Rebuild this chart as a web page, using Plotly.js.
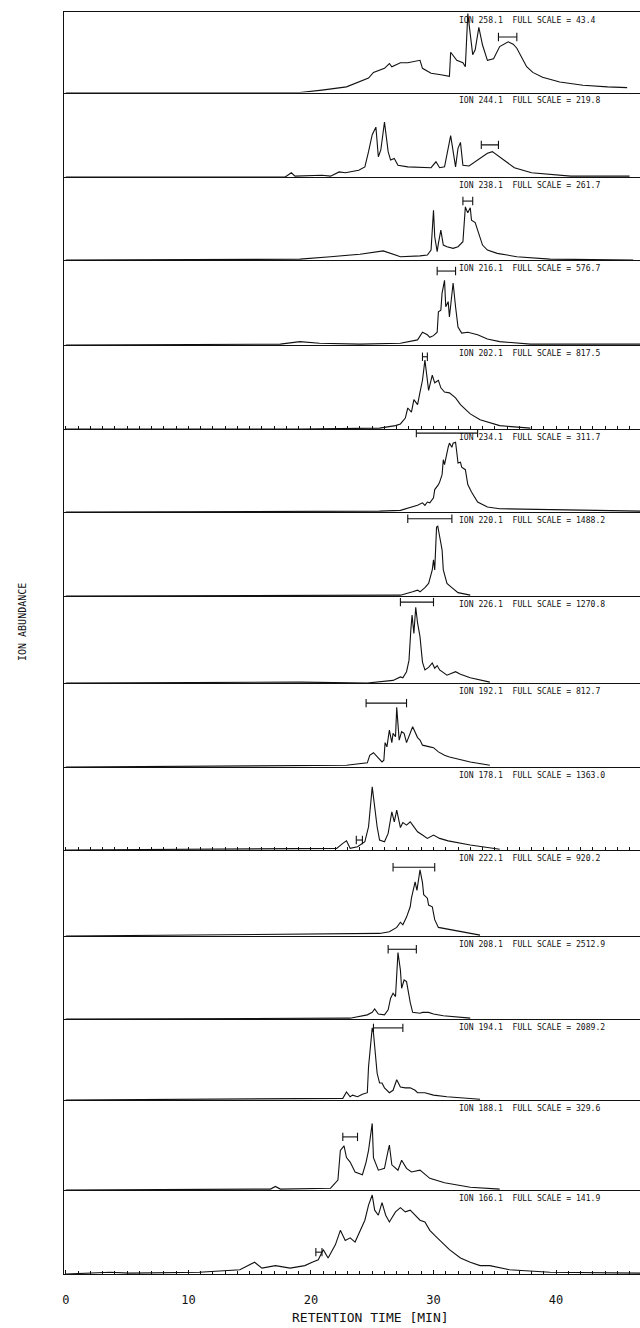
<!DOCTYPE html>
<html><head><meta charset="utf-8">
<script src="https://cdn.plot.ly/plotly-3.0.1.min.js"></script>
<style>html,body{margin:0;padding:0;background:#fff}</style>
</head><body><div id="chart" style="width:640px;height:1328px"></div>
<script>
// ---- data: ion labels, full scales, traces (retention time in min, abundance in % of full scale) ----
const ionMass   = ["258.1","244.1","238.1","216.1","202.1","234.1","220.1","226.1","192.1","178.1","222.1","208.1","194.1","188.1","166.1"];
const fullScale = ["43.4","219.8","261.7","576.7","817.5","311.7","1488.2","1270.8","812.7","1363.0","920.2","2512.9","2089.2","329.6","141.9"];

const time1  = [0,19.1,20.9,22.9,24.7,25.1,26.0,26.4,26.6,27.3,27.9,28.6,28.9,29.1,29.8,30.6,31.3,31.4,31.9,32.4,32.6,32.8,33.1,33.2,33.4,33.7,34.0,34.4,34.9,35.4,36.1,36.5,36.8,37.2,37.6,38.1,38.9,40.3,42.2,44.2,45.8];
const abund1 = [0,0,3,7,18,25,30,36,32,37,37,39,40,30,24,22,20,50,40,37,32,98,55,47,53,81,59,40,42,57,63,60,55,44,32,25,19,13,9,7,6];

const time2  = [0,17.9,18.4,18.7,20.9,21.6,22.3,22.8,23.9,24.4,24.7,25.0,25.3,25.5,25.7,26.0,26.3,26.5,26.8,27.1,27.9,29.8,30.2,30.5,30.9,31.4,31.8,32.0,32.2,32.4,32.9,33.8,34.4,34.8,35.6,36.6,38.0,41.2,46.0];
const abund2 = [0,0,5,1,2,1,6,5,8,12,30,50,59,24,32,65,30,20,22,14,12,11,18,11,12,49,12,34,41,14,13,22,28,30,22,11,5,1,1];

const time3  = [0,19.1,21.6,24.0,25.9,27.3,28.9,29.5,29.8,30.0,30.1,30.3,30.4,30.6,30.8,31.1,31.6,32.0,32.4,32.6,32.7,32.8,33.0,33.1,33.4,33.6,33.8,34.0,34.4,35.2,36.8,39.5,46.3];
const abund3 = [0,1,4,7,11,4,5,6,12,60,28,10,20,36,18,16,14,16,22,64,60,57,63,48,45,36,28,18,12,8,4,1,0];

const time4  = [0,17.5,19.1,20.7,24.0,27.3,28.7,29.1,29.5,29.7,30.0,30.3,30.4,30.6,30.7,30.9,31.0,31.2,31.3,31.5,31.6,31.8,32.0,32.3,32.8,33.6,34.4,35.4,37.9,46.9];
const abund4 = [0,1,4,2,1,2,6,15,12,9,11,15,39,41,61,76,45,51,33,65,73,45,21,14,15,12,7,4,1,1];

const time5  = [0,19.1,25.6,26.9,27.3,27.7,27.9,28.2,28.4,28.7,28.9,29.1,29.3,29.5,29.6,29.9,30.1,30.4,30.6,30.9,31.3,31.8,32.2,33.0,33.8,35.4,37.9];
const abund5 = [0,0,1,4,6,13,25,20,35,29,44,58,82,61,46,64,55,58,49,44,43,37,29,18,11,4,1];

const time6  = [0,25.6,27.3,28.3,28.7,29.1,29.3,29.5,29.7,30.0,30.1,30.4,30.5,30.7,30.8,30.9,31.0,31.2,31.3,31.5,31.6,31.8,31.9,32.0,32.2,32.3,32.6,32.7,32.8,33.1,33.4,33.6,34.4,35.4,46.9];
const abund6 = [0,1,2,6,8,11,8,12,11,17,27,33,36,45,63,57,65,78,83,78,83,84,72,59,60,54,51,41,33,24,17,12,6,4,1];

const time7  = [0,19.1,27.3,28.3,28.7,28.9,29.3,29.6,29.9,30.0,30.1,30.25,30.35,30.45,30.7,30.8,31.1,31.5,32.0,33.0];
const abund7 = [0,1,1,5,7,5,10,15,31,43,31,82,83,75,55,31,15,10,4,1];

const time8  = [0,19.1,24.6,26.7,27.3,27.5,27.8,28.0,28.15,28.25,28.4,28.55,28.7,28.9,29.1,29.3,29.6,29.9,30.1,30.3,30.5,31.1,31.8,32.2,33.0,34.6];
const abund8 = [0,1,0,3,7,6,13,26,61,78,57,87,69,53,24,15,18,23,17,20,15,9,13,10,6,1];

const time9  = [0,22.9,24.6,24.8,25.1,25.4,25.8,25.95,26.05,26.2,26.4,26.6,26.7,26.9,27.0,27.2,27.4,27.6,27.8,28.3,28.7,28.9,29.1,29.7,30.0,30.4,30.9,31.3,33.0,34.6];
const abund9 = [0,2,5,14,17,12,6,8,29,24,44,29,40,36,71,32,42,40,29,48,35,32,26,24,23,18,14,12,6,2];

const time10  = [0,22.1,22.6,22.9,23.2,23.8,24.4,24.7,24.9,25.0,25.1,25.4,25.6,26.0,26.3,26.6,26.8,27.0,27.3,27.5,27.8,28.1,28.3,28.7,29.1,29.5,30.0,30.5,31.2,33.0,35.4];
const abund10 = [0,2,8,11,2,4,10,28,60,76,64,28,12,10,20,46,34,48,27,33,30,34,30,22,18,14,18,14,11,6,1];

const time11  = [0,20.5,25.6,26.4,27.0,27.3,27.5,27.8,28.1,28.2,28.5,28.65,28.75,28.9,29.1,29.2,29.5,29.6,29.9,30.1,30.4,30.8,31.3,33.8];
const abund11 = [0,2,3,5,10,16,13,22,34,44,63,53,65,77,62,48,44,36,34,19,10,9,7,1];

const time12  = [0,23.2,24.6,25.0,25.2,25.5,26.0,26.3,26.5,26.7,26.9,27.0,27.1,27.3,27.4,27.6,27.8,28.1,28.3,28.9,29.1,29.6,30.0,30.8,33.0];
const abund12 = [0,1,5,8,12,6,5,11,25,31,27,61,80,59,37,47,45,20,8,7,8,8,6,4,1];

const time13  = [0,22.6,22.9,23.2,23.4,23.8,24.2,24.6,24.7,25.0,25.1,25.4,25.6,25.8,26.0,26.4,26.7,27.0,27.3,27.7,28.1,28.5,28.7,29.3,30.0,31.1,33.8];
const abund13 = [0,2,10,4,6,4,7,9,41,89,83,33,21,21,15,9,12,25,16,15,15,12,9,9,6,4,1];

const time14  = [0,16.7,17.1,17.5,21.6,22.2,22.4,22.7,22.9,23.2,23.6,24.2,24.5,24.7,25.0,25.1,25.5,26.0,26.3,26.4,26.6,27.1,27.4,27.8,28.2,28.9,29.7,30.9,33.0,35.4];
const abund14 = [0,1,4,1,2,11,44,49,36,31,20,17,31,44,74,36,22,24,44,50,28,22,33,24,20,22,13,8,3,1];

const time15  = [0,2.8,3.6,5.2,10.9,14.2,15.4,16.0,17.1,18.3,19.5,20.1,20.6,21.0,21.4,22.0,22.4,22.8,23.2,23.6,24.0,24.4,24.7,25.0,25.2,25.5,25.8,26.1,26.4,26.9,27.3,27.7,28.1,28.5,28.9,29.3,29.7,30.1,30.5,30.9,31.3,32.2,33.0,33.8,34.6,36.2,39.5,46.9];
const abund15 = [0,1,2,1,2,5,14,7,10,7,10,14,17,29,19,35,52,40,43,38,52,64,82,94,76,70,85,70,62,74,79,74,76,70,64,62,52,46,40,35,29,19,14,10,10,5,2,1];

// retention-time windows marked above the peaks
const bracketStart = [35.3,33.9,32.4,30.3,29.1,28.6,27.9,27.3,24.5,23.7,26.7,26.3,25.1,22.6,20.4];
const bracketEnd   = [36.8,35.3,33.2,31.8,29.5,33.6,31.5,30.0,27.8,24.2,30.1,28.6,27.5,23.8,20.9];
const bracketLevel = [69,38,71,87,86,95,92,93,76,12,80,84,89,59,26];

const xTickVals = [0,10,20,30,40];

// ---- layout ----
const times  = [time1,time2,time3,time4,time5,time6,time7,time8,time9,time10,time11,time12,time13,time14,time15];
const abunds = [abund1,abund2,abund3,abund4,abund5,abund6,abund7,abund8,abund9,abund10,abund11,abund12,abund13,abund14,abund15];

const W = 640, Hh = 1328;
const rows = [12, 92.5, 177, 260, 345, 429, 512, 596, 683, 767, 850, 936, 1019, 1100, 1190, 1274];
const plotTop = rows[0], plotBot = rows[rows.length-1], PH = plotBot - plotTop;
const plotLeft = 64, PW = W - plotLeft;
const FONT = 'DejaVu Sans Mono, monospace';
const INK = '#111';
const xr = [-0.15, 46.85];

const traces = [];
const layout = {
  width: W, height: Hh,
  margin: {l: plotLeft, r: 0, t: plotTop, b: Hh - plotBot, pad: 0},
  paper_bgcolor: '#fff', plot_bgcolor: '#fff',
  showlegend: false,
  font: {family: FONT, color: INK},
  annotations: [], shapes: []
};

for (let i = 0; i < 15; i++) {
  const s = i === 0 ? '' : String(i + 1);
  traces.push({
    x: times[i], y: abunds[i], xaxis: 'x' + s, yaxis: 'y' + s,
    mode: 'lines', line: {color: INK, width: 1.1}, hoverinfo: 'skip'
  });
  traces.push({
    x: [bracketStart[i], bracketEnd[i]], y: [bracketLevel[i], bracketLevel[i]],
    xaxis: 'x' + s, yaxis: 'y' + s, mode: 'lines+markers',
    line: {color: INK, width: 1.1},
    marker: {symbol: 'line-ns-open', size: 6, color: INK, line: {color: INK, width: 1.1}},
    hoverinfo: 'skip'
  });
  const d0 = (plotBot - rows[i + 1]) / PH, d1 = (plotBot - rows[i]) / PH;
  const xa = {
    anchor: 'y' + s, range: xr, showline: true, linecolor: INK, linewidth: 1.4,
    showgrid: false, zeroline: false, showticklabels: false, ticks: '', fixedrange: true
  };
  if (i === 0) xa.mirror = true;
  if (i === 4 || i === 9) {
    xa.ticks = 'inside'; xa.dtick = 1; xa.tick0 = 0; xa.ticklen = 3; xa.tickcolor = INK; xa.tickwidth = 1;
  }
  if (i === 14) {
    Object.assign(xa, {
      showticklabels: true, tickmode: 'array', tickvals: xTickVals,
      ticks: 'inside', ticklen: 4, tickcolor: INK, tickwidth: 1,
      minor: {dtick: 1, tick0: 0, ticks: 'inside', ticklen: 3, tickcolor: INK, tickwidth: 1},
      tickfont: {family: FONT, size: 12, color: INK}, ticklabelstandoff: 14
    });
  }
  layout['xaxis' + s] = xa;
  layout['yaxis' + s] = {
    anchor: 'x' + s, domain: [d0, d1], range: [0, 100],
    showline: true, linecolor: INK, linewidth: 1.4,
    showgrid: false, zeroline: false, showticklabels: false, ticks: '', fixedrange: true
  };
  layout.annotations.push({
    text: 'ION ' + ionMass[i] + '  FULL SCALE = ' + fullScale[i],
    xref: 'paper', x: (457 - plotLeft) / PW, xanchor: 'left',
    yref: 'y' + s + ' domain', y: 1, yanchor: 'top', yshift: -1,
    showarrow: false, font: {family: FONT, size: 8.1, color: INK}
  });
}

layout.annotations.push({
  text: 'RETENTION TIME [MIN]', xref: 'paper', yref: 'paper',
  x: (370 - plotLeft) / PW, y: (plotBot - 1318) / PH, xanchor: 'center', yanchor: 'middle',
  showarrow: false, font: {family: FONT, size: 13, color: INK}
});
layout.annotations.push({
  text: 'ION ABUNDANCE', xref: 'paper', yref: 'paper', textangle: -90,
  x: (22 - plotLeft) / PW, y: (plotBot - 622) / PH, xanchor: 'center', yanchor: 'middle',
  showarrow: false, font: {family: FONT, size: 10, color: INK}
});

Plotly.newPlot('chart', traces, layout, {staticPlot: true, displayModeBar: false});
</script>
</body></html>
